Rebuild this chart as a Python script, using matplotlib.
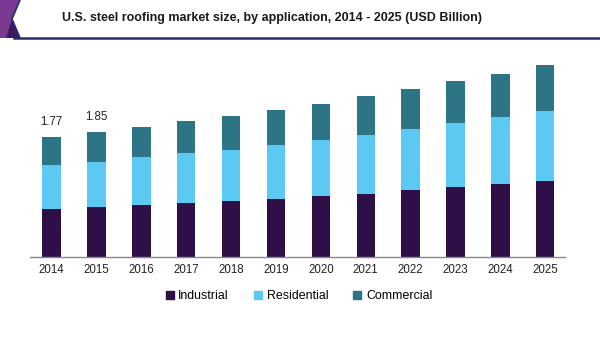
import matplotlib
matplotlib.use("Agg")
import matplotlib.pyplot as plt
from matplotlib.patches import Polygon
from matplotlib.lines import Line2D
import numpy as np

plt.rcParams['font.family'] = ['Liberation Sans', 'DejaVu Sans']

years = ["2014", "2015", "2016", "2017", "2018", "2019", "2020", "2021", "2022", "2023", "2024", "2025"]
industrial = [0.71, 0.735, 0.765, 0.80, 0.828, 0.864, 0.902, 0.938, 0.987, 1.035, 1.08, 1.12]
residential = [0.646, 0.675, 0.71, 0.735, 0.76, 0.793, 0.834, 0.873, 0.907, 0.947, 0.991, 1.044]
commercial = [0.414, 0.44, 0.453, 0.473, 0.497, 0.524, 0.533, 0.567, 0.587, 0.617, 0.64, 0.671]
annotations = {0: "1.77", 1: "1.85"}

c_ind = "#2e0f47"
c_res = "#5bc9f2"
c_com = "#2d7487"

fig = plt.figure(figsize=(6, 3.52), dpi=100)
ax = fig.add_axes([0.05, 0.27, 0.8917, 0.576])

x = np.arange(len(years))
w = 0.41
ind = np.array(industrial)
res = np.array(residential)
com = np.array(commercial)
ax.bar(x, ind, w, color=c_ind, label="Industrial")
ax.bar(x, res, w, bottom=ind, color=c_res, label="Residential")
ax.bar(x, com, w, bottom=ind + res, color=c_com, label="Commercial")

tot = ind + res + com
for i, t in annotations.items():
    ax.text(x[i] - 0.01, tot[i] + 0.226, t, ha="center", va="center", fontsize=8.3, color="#222222")

ax.set_xlim(-0.48, 11.44)
ax.set_ylim(0, 3.0)
ax.set_xticks(x)
ax.set_xticklabels(years, fontsize=8.3, color="#222222")
ax.tick_params(axis="x", length=0, pad=5)
ax.set_yticks([])
for s in ["top", "right", "left"]:
    ax.spines[s].set_visible(False)
ax.spines["bottom"].set_color("#888888")
ax.spines["bottom"].set_linewidth(1)

# Legend
handles = [Line2D([], [], marker="s", linestyle="none", markersize=5.5, color=c) for c in (c_ind, c_res, c_com)]
fig.legend(handles, ["Industrial", "Residential", "Commercial"], loc="center",
           bbox_to_anchor=(0.497, 1 - 296 / 352), ncol=3, frameon=False, fontsize=8.9,
           handletextpad=0.25, columnspacing=1.9, handlelength=0.9)

# Header decoration
H = 352.0
def fy(py):
    return 1 - py / H
fig.add_artist(Polygon([(0, fy(0)), (20 / 600, fy(0)), (12 / 600, fy(19)), (20 / 600, fy(38)), (0, fy(38))],
                       closed=True, transform=fig.transFigure, facecolor="#7a3a92", edgecolor="none"))
fig.add_artist(Polygon([(6 / 600, fy(38)), (12 / 600, fy(19)), (20 / 600, fy(38))],
                       closed=True, transform=fig.transFigure, facecolor="#3e1a5a", edgecolor="none"))
fig.add_artist(Line2D([14 / 600, 1], [fy(38), fy(38)], transform=fig.transFigure, color="#2a2a6a", linewidth=1.8))
fig.add_artist(Line2D([20 / 600, 12 / 600, 20 / 600], [fy(0), fy(19), fy(38)], transform=fig.transFigure,
                      color="#1e2a80", linewidth=1.2))

fig.text(271.5 / 600, fy(18), "U.S. steel roofing market size, by application, 2014 - 2025 (USD Billion)",
         ha="center", va="center", fontsize=9, fontweight="bold", color="#1a1a1a")

fig.savefig("out.png", dpi=100)
